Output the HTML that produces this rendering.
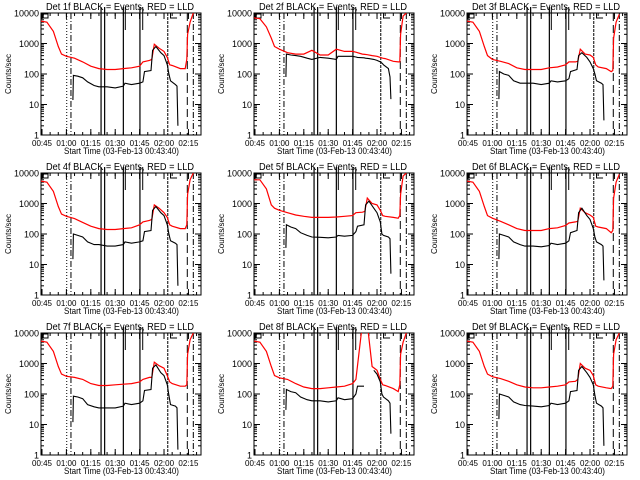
<!DOCTYPE html>
<html><head><meta charset="utf-8"><style>
html,body{margin:0;padding:0;background:#fff}
svg{display:block}
text{font-family:"Liberation Sans",sans-serif;fill:#000}
</style></head><body>
<svg id="chart" width="640" height="480" viewBox="0 0 640 480" xmlns="http://www.w3.org/2000/svg"></svg>
<script>
// time in minutes after 00:45
const redTimes = [-1.3,3,7,10,12,15,20,25,30,35,40,45,50,55,60,62,66,67.5,69,72,75,77,78.5,80,85,88,89,89.5,91,93];
const blackTimes = [19,19.3,22,25,28,32,35,40,45,50,51,55,60,62,63,67,68,70,73,75,77,78,79,82,83,83.5];
const red1 = [5500,5000,2500,800,450,380,330,250,180,150,140,140,150,160,180,250,280,300,950,700,550,350,200,190,150,150,300,2000,5000,10000];
const red2 = [7000,6500,3500,1500,800,650,500,450,450,600,420,420,650,550,550,520,450,440,430,400,380,350,330,320,260,250,250,2000,8000,10000];
const red3 = [5500,5000,2500,800,400,300,260,220,160,140,140,140,160,170,200,250,250,260,650,450,420,350,200,170,150,120,130,1500,5000,9000];
const red4 = [5500,5000,2500,800,450,380,320,240,180,150,140,140,150,160,200,250,280,300,900,700,500,350,200,180,150,150,200,2000,6000,10000];
const red5 = [6000,6000,3000,900,700,600,500,420,380,350,350,350,360,380,400,500,520,550,1500,1000,900,600,400,380,350,330,400,2000,8000,10000];
const red6 = [5500,5000,2500,800,400,330,260,200,150,130,130,130,150,160,190,230,250,260,700,500,420,350,180,170,150,110,130,1500,5000,9000];
const red7 = [5500,5000,2500,800,450,380,350,300,220,190,190,200,210,220,250,300,350,350,1100,850,700,400,250,220,180,180,200,2000,6000,10000];
const red8 = [5500,5000,2500,800,400,340,300,220,170,150,150,160,170,180,220,300,20000,20000,20000,800,600,300,200,190,150,120,200,2000,5000,10000];
const red9 = [5500,5000,2500,800,450,370,320,260,200,170,160,160,170,180,200,250,260,300,1000,700,600,400,200,180,160,150,180,2000,6000,10000];
const black1 = [14,90,85,75,55,42,38,38,35,40,50,45,50,55,120,130,600,800,500,400,200,100,60,45,40,2];
const black2 = [80,450,420,400,380,330,300,350,330,300,380,380,380,360,350,340,330,320,300,280,250,230,200,150,80,15];
const black3 = [15,120,100,90,60,50,50,50,45,50,60,55,60,70,120,140,400,500,350,250,150,100,60,50,45,3];
const black4 = [15,100,90,80,55,45,45,40,40,45,55,50,55,60,120,130,600,800,500,400,200,100,60,50,45,2];
const black5 = [35,200,170,150,110,90,80,78,75,80,90,85,90,120,180,200,900,1200,700,500,250,100,90,80,70,5];
const black6 = [15,100,90,80,55,45,40,40,38,42,50,45,50,60,110,130,500,700,400,300,150,80,55,45,40,3];
const black7 = [12,85,80,70,45,38,35,35,35,40,50,45,50,60,130,140,700,900,500,400,200,90,45,40,35,1.5];
const black8 = [30,140,120,110,80,65,60,60,55,60,75,65,70,100,180,180,null,null,600,450,250,100,80,60,50,5];
const black9 = [15,100,90,80,55,45,42,40,38,42,50,45,50,60,120,130,600,800,500,350,200,90,50,40,35,2];
const detLabels = ["1f","2f","3f","4f","5f","6f","7f","8f","9f"];
const xTickLabels = ["00:45","01:00","01:15","01:30","01:45","02:00","02:15"];
const xTickMinutes = [0,15,30,45,60,75,90];
const yTickLabels = ["1","10","100","1000","10000"];
const yTickValues = [1,10,100,1000,10000];
const redSeries = [red1,red2,red3,red4,red5,red6,red7,red8,red9];
const blackSeries = [black1,black2,black3,black4,black5,black6,black7,black8,black9];
const fullLineTimes = [36.3,38.5,50,60.2];
const shortLineTimes = [51.2,61.9];

const svg = document.getElementById('chart');
const NS = 'http://www.w3.org/2000/svg';
const L = 41, R = 201, T = 13, B = 135;
function xs(m){ return 42 + m*1.627; }
function ys(v){ return T + (4 - Math.log10(v)) * (B - T) / 4; }
function mk(tag, attrs, parent){
  const e = document.createElementNS(NS, tag);
  for (const k in attrs) e.setAttribute(k, attrs[k]);
  parent.appendChild(e); return e;
}
function pathFrom(times, vals){
  let d = '', pen = false;
  for (let i = 0; i < times.length; i++){
    const v = vals[i];
    if (v == null){ pen = false; continue; }
    d += (pen ? 'L' : 'M') + xs(times[i]).toFixed(1) + ',' + ys(v).toFixed(1);
    pen = true;
  }
  return d;
}
const defs = mk('defs', {}, svg);
const cp = mk('clipPath', {id:'plotclip'}, defs);
mk('rect', {x:L, y:T, width:R-L, height:B-T}, cp);

for (let p = 0; p < 9; p++){
  const col = p % 3, row = Math.floor(p / 3);
  const g = mk('g', {transform:`translate(${col*213},${row*160})`}, svg);
  
  

  const title = mk('text', {x:46, y:10, 'font-size':'10', textLength:148, lengthAdjust:'spacingAndGlyphs'}, g);
  title.textContent = 'Det ' + detLabels[p] + ' BLACK = Events, RED = LLD';
  
  

  const yl = mk('text', {x:0, y:0, 'font-size':'8', 'text-anchor':'middle', transform:'translate(11,74) rotate(-90)'}, g);
  yl.textContent = 'Counts/sec';
  
  

  const xl = mk('text', {x:64, y:154, 'font-size':'9.5', textLength:115, lengthAdjust:'spacingAndGlyphs'}, g);
  xl.textContent = 'Start Time (03-Feb-13 00:43:40)';
  
  

  // y ticks
  yTickValues.forEach((v, i) => {
    const y = ys(v);
    const t = mk('text', {x:L-2, y:y+3.5, 'font-size':'9', 'text-anchor':'end'}, g);
    t.textContent = yTickLabels[i];
    
    
    mk('line', {x1:L, x2:L+6, y1:y, y2:y, stroke:'#000'}, g);
    mk('line', {x1:R-6, x2:R, y1:y, y2:y, stroke:'#000'}, g);
    if (v < 10000) for (let k = 2; k < 10; k++){
      const yy = ys(v*k);
      mk('line', {x1:L, x2:L+3, y1:yy, y2:yy, stroke:'#000'}, g);
      mk('line', {x1:R-3, x2:R, y1:yy, y2:yy, stroke:'#000'}, g);
    }
  });
  // x ticks
  xTickMinutes.forEach((m, i) => {
    const x = xs(m);
    const t = mk('text', {x:x-10, y:146, 'font-size':'8.5', textLength:20, lengthAdjust:'spacingAndGlyphs'}, g);
    t.textContent = xTickLabels[i];
    
    
    mk('line', {x1:x, x2:x, y1:B, y2:B-6, stroke:'#000'}, g);
    mk('line', {x1:x, x2:x, y1:T, y2:T+6, stroke:'#000'}, g);
  });
  for (let m = 5; m < 97; m += 5){
    const x = xs(m);
    mk('line', {x1:x, x2:x, y1:B, y2:B-3, stroke:'#000'}, g);
    mk('line', {x1:x, x2:x, y1:T, y2:T+3, stroke:'#000'}, g);
  }
  // frame
  const fr = mk('rect', {x:L, y:T, width:R-L, height:B-T, fill:'none', stroke:'#000'}, g);
  
  

  // event lines
  mk('line', {x1:xs(15.2), x2:xs(15.2), y1:T, y2:B, stroke:'#000', 'stroke-dasharray':'1,2'}, g);
  mk('line', {x1:xs(17.8), x2:xs(17.8), y1:T, y2:B, stroke:'#000', 'stroke-dasharray':'6,2,1,2'}, g);
  fullLineTimes.forEach(m => {
    const ln = mk('line', {x1:xs(m), x2:xs(m), y1:7, y2:B, stroke:'#000', 'stroke-width':1.2}, g);
    
    
  });
  shortLineTimes.forEach(m => {
    mk('line', {x1:xs(m), x2:xs(m), y1:7, y2:30, stroke:'#000'}, g);
  });
  mk('line', {x1:xs(77.3), x2:xs(77.3), y1:T, y2:B, stroke:'#000', 'stroke-dasharray':'3,1'}, g);
  mk('path', {d:`M${xs(81)},13 L${xs(79)},13 L${xs(79)},18 L${xs(83)},18`, fill:'none', stroke:'#000'}, g);
  mk('line', {x1:xs(89.3), x2:xs(89.3), y1:T, y2:B, stroke:'#000', 'stroke-dasharray':'8,4'}, g);
  mk('line', {x1:xs(93), x2:xs(93), y1:T, y2:B, stroke:'#000', 'stroke-dasharray':'6,2,1,2'}, g);
  mk('rect', {x:43, y:14, width:5, height:4, fill:'none', stroke:'#000'}, g);

  const pg = mk('g', {'clip-path':'url(#plotclip)'}, g);
  const rp = mk('path', {d:pathFrom(redTimes, redSeries[p]), fill:'none', stroke:'#ff0000', 'stroke-width':1.2}, pg);
  
  
  const bp = mk('path', {d:pathFrom(blackTimes, blackSeries[p]), fill:'none', stroke:'#000', 'stroke-width':1.1}, pg);
  
  
}
</script>
</body></html>
